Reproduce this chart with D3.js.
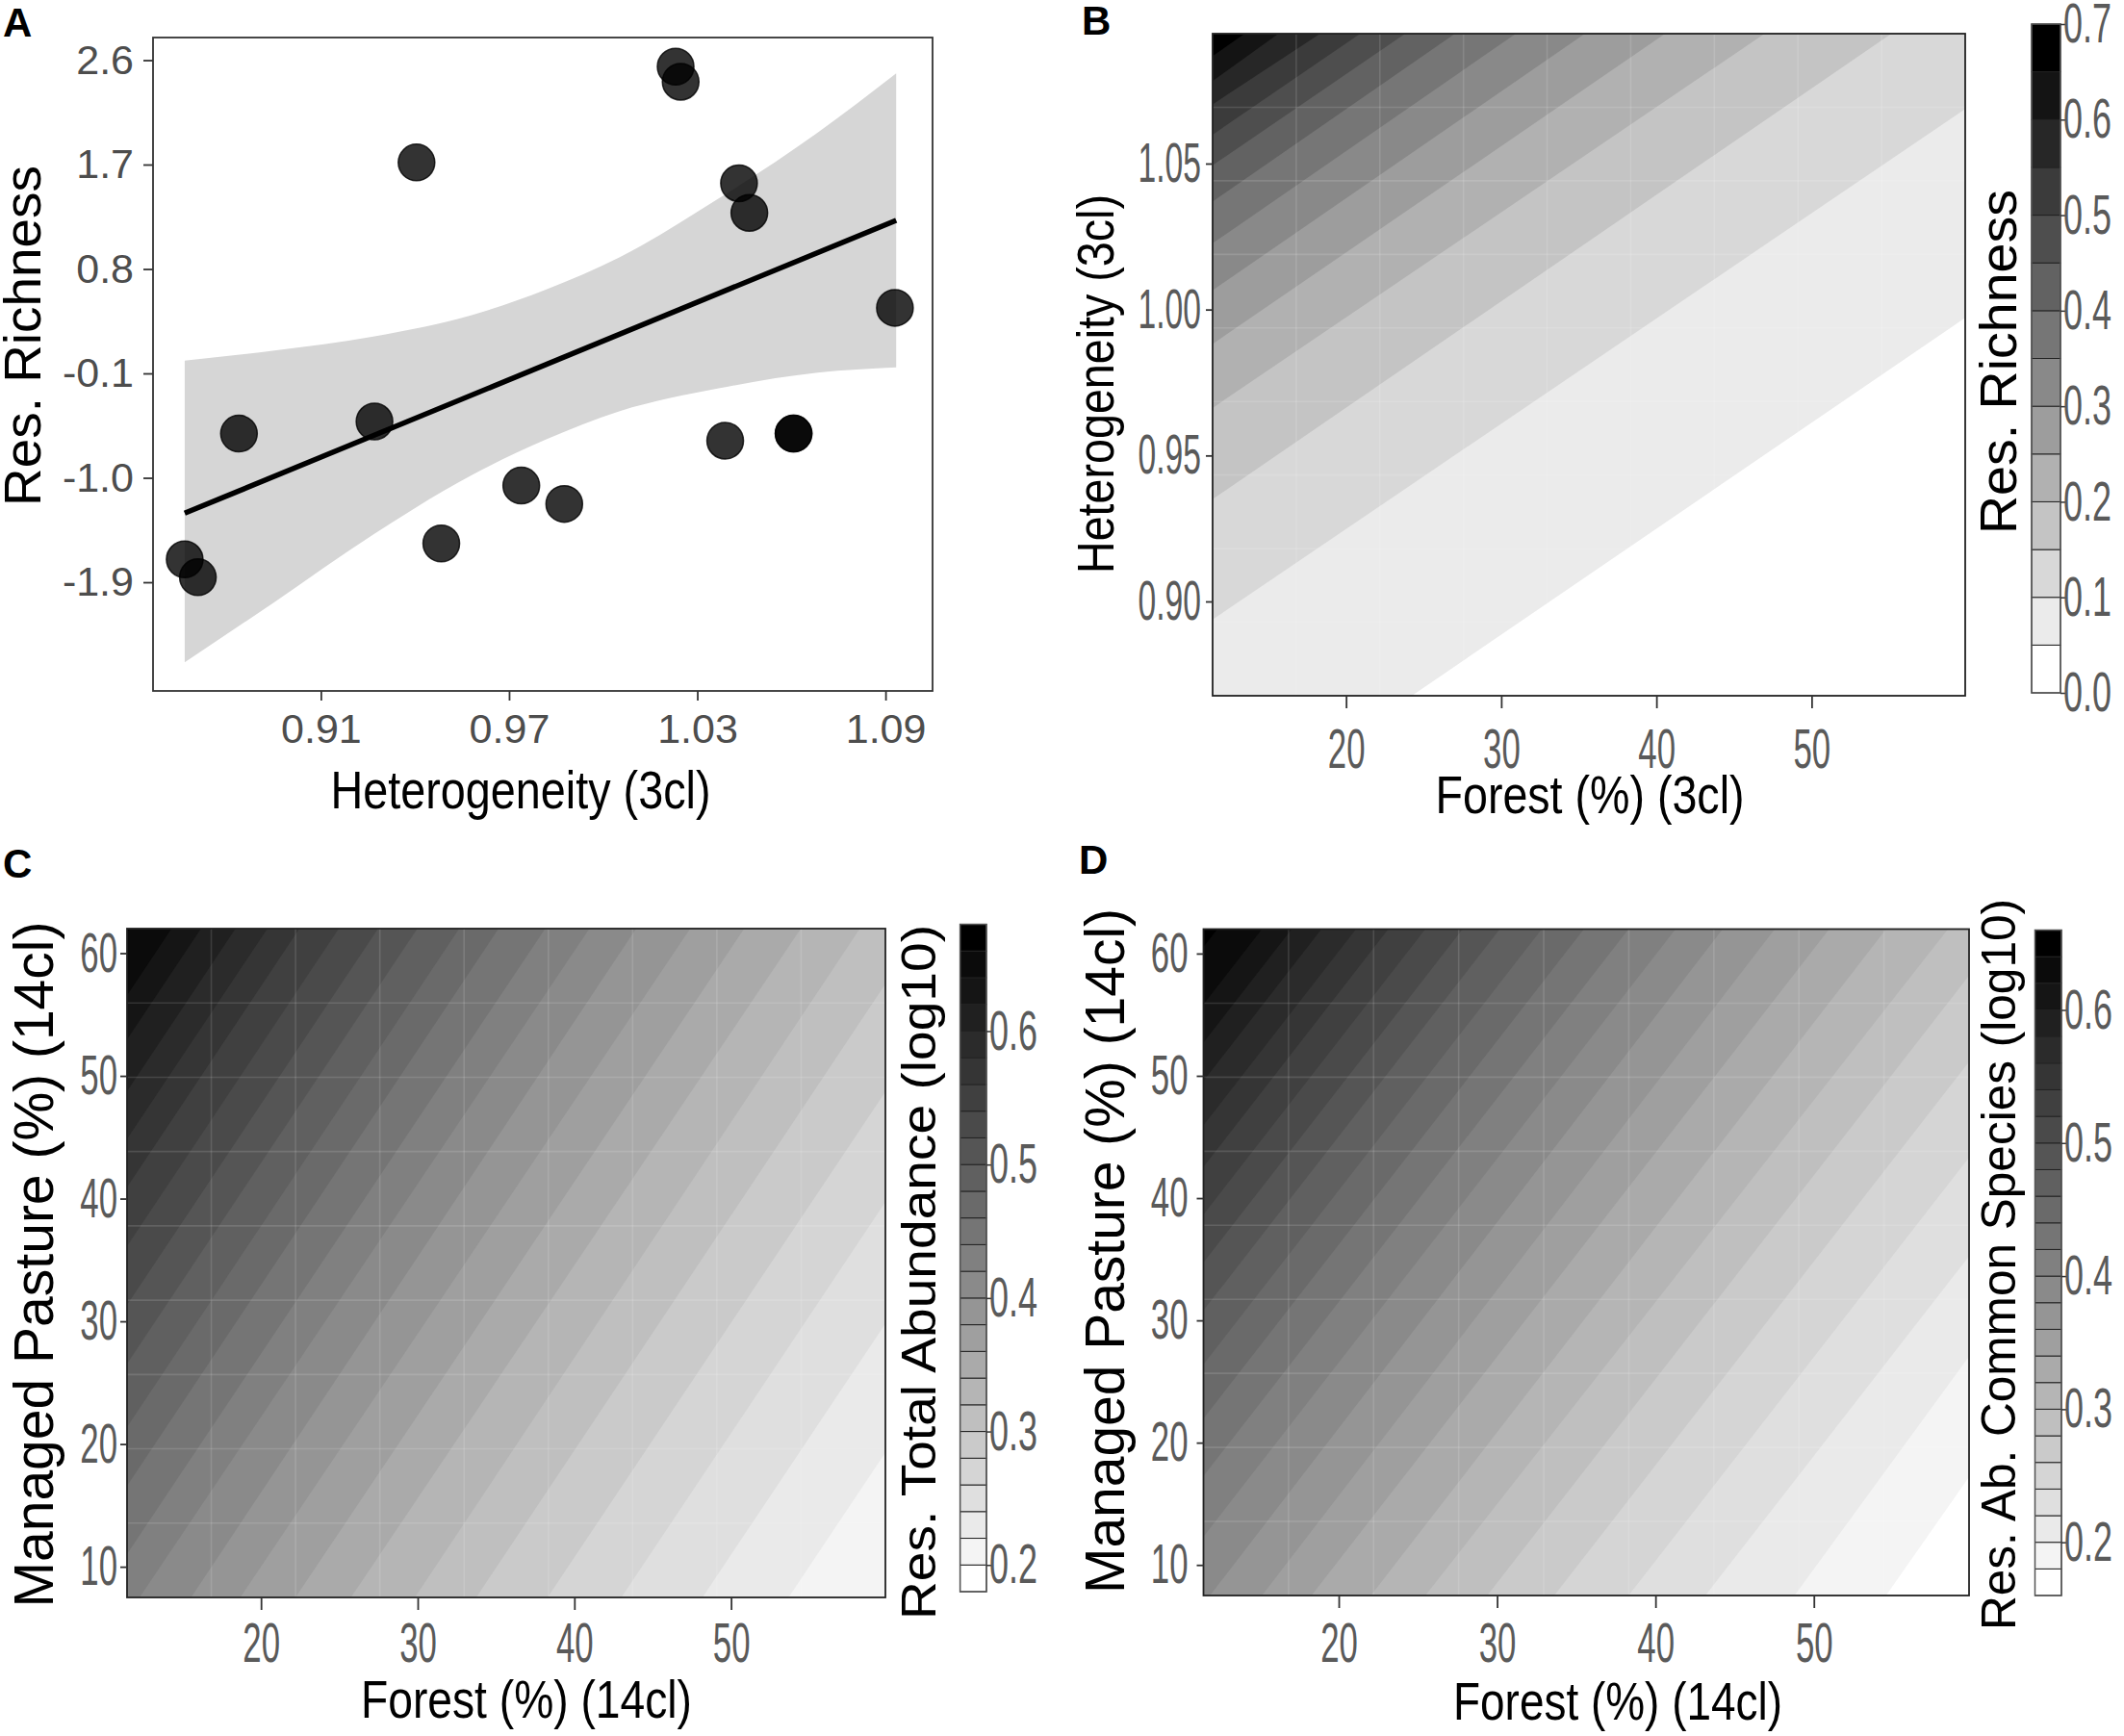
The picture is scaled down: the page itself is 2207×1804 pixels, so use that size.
<!DOCTYPE html>
<html>
<head>
<meta charset="utf-8">
<script src="https://cdn.jsdelivr.net/npm/d3@7"></script>
<style>
  body { margin: 0; background: #fff; }
  text { font-family: "Liberation Sans", Arial, sans-serif; }
</style>
</head>
<body>
<script>
// ---------- values ----------

// A: residual richness against heterogeneity (3cl)
const ptX = [1.0231, 1.0247, 0.9405, 1.0433, 1.0466, 1.0930, 0.8839, 0.9271, 1.0389, 1.0607, 1.0607, 0.9739, 0.9876, 0.9484, 0.8666, 0.8708];
const ptY = [2.544, 2.414, 1.718, 1.539, 1.284, 0.465, -0.619, -0.515, -0.680, -0.619, -0.619, -1.067, -1.225, -1.566, -1.703, -1.857];
const fitX = [0.8666, 1.0934];
const fitY = [-1.305, 1.219];
const bandX  = [0.8666, 0.8952, 0.9267, 0.9581, 0.9817, 1.0053, 1.0368, 1.0683, 1.0934];
const bandLo = [-2.59, -2.071, -1.490, -0.976, -0.671, -0.426, -0.229, -0.094, -0.048];
const bandHi = [0.010, 0.097, 0.218, 0.402, 0.622, 0.902, 1.407, 1.974, 2.486];
const aXTicks = [0.91, 0.97, 1.03, 1.09];
const aYTicks = [2.6, 1.7, 0.8, -0.1, -1.0, -1.9];

// B: Res. Richness over Forest (%) x Heterogeneity, band edges and where each edge line meets the panel
const bEdges = [0, 0.05, 0.10, 0.15, 0.20, 0.25, 0.30, 0.35, 0.40, 0.45, 0.50, 0.55, 0.60, 0.65, 0.70];
const bLineFrom = [[24.24, 0.8677], [11.4, 0.8938], [11.4, 0.9350], [11.4, 0.9663], [11.4, 0.9882], [11.4, 1.0066], [11.4, 1.0227],
                   [11.4, 1.0370], [11.4, 1.0494], [11.4, 1.0599], [11.4, 1.0703], [11.4, 1.0783], [11.4, 1.0868]];
const bLineTo   = [[59.9, 0.9972], [59.9, 1.0687], [55.14, 1.0945], [46.97, 1.0945], [40.56, 1.0945], [35.39, 1.0945], [30.94, 1.0945],
                   [27.02, 1.0945], [23.81, 1.0945], [20.91, 1.0945], [18.33, 1.0945], [15.64, 1.0945], [13.47, 1.0945]];

// C: Res. Total Abundance (log10); forest % where each edge crosses the bottom (7.5) and top (62) of the panel
const cEdges = [0.18, 0.20, 0.22, 0.24, 0.26, 0.28, 0.30, 0.32, 0.34, 0.36, 0.38, 0.40, 0.42,
                0.44, 0.46, 0.48, 0.50, 0.52, 0.54, 0.56, 0.58, 0.60, 0.62, 0.64, 0.66, 0.68];
const cBottomF = [61.0, 53.67, 48.18, 43.00, 38.29, 33.74, 29.82, 25.74, 22.20, 18.68, 15.54, 12.25,
                  9.6, 6.7, 4.2, 1.5, -1.0, -3.5, -6.0, -8.1, -10.1, -12.3, -14.2, -16.9];
const cTopF    = [89.5, 82.2, 76.7, 71.5, 66.8, 62.2, 58.22, 54.45, 50.84, 47.39, 43.94, 40.96,
                  38.14, 35.16, 32.65, 29.98, 27.47, 24.96, 22.45, 20.41, 18.37, 16.17, 14.29, 11.62];

// D: Res. Ab. Common Species (log10)
const dEdges = [0.16, 0.18, 0.20, 0.22, 0.24, 0.26, 0.28, 0.30, 0.32, 0.34, 0.36, 0.38, 0.40,
                0.42, 0.44, 0.46, 0.48, 0.50, 0.52, 0.54, 0.56, 0.58, 0.60, 0.62, 0.64, 0.66];
const dBottomF = [54.56, 48.78, 43.15, 38.30, 33.61, 29.38, 25.47, 22.03, 18.28, 15.15, 11.87, 8.57,
                  5.6, 2.78, 0.12, -2.53, -4.88, -7.23, -9.57, -11.61, -13.79, -15.67, -17.55, -20.36];
const dTopF    = [84.0, 79.5, 75.85, 71.0, 66.31, 62.08, 58.47, 54.56, 50.97, 47.53, 44.24, 41.27,
                  38.30, 35.48, 32.82, 30.17, 27.82, 25.47, 23.13, 21.09, 18.91, 17.03, 15.15, 12.34];

const forestTicks = [20, 30, 40, 50];
const hetTicks = [0.90, 0.95, 1.00, 1.05];
const pastureTicks = [10, 20, 30, 40, 50, 60];
const bBarTicks = [0, 0.1, 0.2, 0.3, 0.4, 0.5, 0.6, 0.7];
const cdBarTicks = [0.2, 0.3, 0.4, 0.5, 0.6];

// ---------- layout ----------
const W = 2207, H = 1804;
const svg = d3.create("svg").attr("width", W).attr("height", H);
svg.append("rect").attr("width", W).attr("height", H).attr("fill", "#fff");

const tickGrey = "#5a5a5a";

// scales
const xA = d3.scaleLinear().domain([0.8565, 1.105]).range([159, 969]);
const yA = d3.scaleLinear().domain([-2.837, 2.795]).range([718, 39]);
const xB = d3.scaleLinear().domain([11.4, 59.9]).range([1260, 2042]);
const yB = d3.scaleLinear().domain([0.8677, 1.0945]).range([723, 35]);
const xC = d3.scaleLinear().domain([11.45, 59.85]).range([132, 920]);
const yC = d3.scaleLinear().domain([7.5, 62.0]).range([1660, 965]);
const xD = d3.scaleLinear().domain([11.46, 59.8]).range([1250.5, 2046]);
const yD = d3.scaleLinear().domain([7.5, 62.0]).range([1658, 965.5]);

// helper: a text label, optionally rotated, squeezed to a measured length
function label(x, y, txt, opt) {
  const t = svg.append("text")
    .attr("x", x).attr("y", y)
    .attr("font-size", opt.size)
    .attr("fill", opt.color || "#000")
    .attr("text-anchor", opt.anchor || "middle")
    .attr("font-weight", opt.bold ? "bold" : null)
    .text(txt);
  if (opt.len) t.attr("textLength", opt.len).attr("lengthAdjust", "spacingAndGlyphs");
  if (opt.rotate) t.attr("transform", `rotate(-90, ${x}, ${y})`);
  return t;
}

// helper: style axis ticks; sx < 1 gives the narrow digits of panels B-D
function styleAxis(g, size, color, sx, left, pad) {
  g.select(".domain").remove();
  g.selectAll(".tick line").attr("stroke", "#333").attr("stroke-width", 1.8);
  const t = g.selectAll(".tick text").attr("font-size", size).attr("fill", color);
  if (sx !== 1) {
    t.attr("transform", `scale(${sx},1)`);
    if (left) t.attr("x", -pad / sx);
  }
}

// ---------- panel A ----------
const gA = svg.append("g");

gA.append("path")
  .datum(d3.range(bandX.length))
  .attr("fill", "#d6d6d6")
  .attr("d", d3.area()
    .x(i => xA(bandX[i]))
    .y0(i => yA(bandLo[i]))
    .y1(i => yA(bandHi[i]))
    .curve(d3.curveMonotoneX));

gA.append("path")
  .datum(d3.zip(fitX, fitY))
  .attr("fill", "none")
  .attr("stroke", "#000")
  .attr("stroke-width", 5.5)
  .attr("d", d3.line().x(d => xA(d[0])).y(d => yA(d[1])));

gA.selectAll("circle")
  .data(d3.zip(ptX, ptY))
  .join("circle")
  .attr("cx", d => xA(d[0]))
  .attr("cy", d => yA(d[1]))
  .attr("r", 19)
  .attr("fill", "#000")
  .attr("fill-opacity", 0.8)
  .attr("stroke", "#000")
  .attr("stroke-opacity", 0.8)
  .attr("stroke-width", 1.5);

gA.append("rect")
  .attr("x", 159).attr("y", 39).attr("width", 810).attr("height", 679)
  .attr("fill", "none").attr("stroke", "#333").attr("stroke-width", 1.8);

gA.append("g")
  .attr("transform", "translate(159,0)")
  .call(d3.axisLeft(yA).tickValues(aYTicks).tickFormat(d => d.toFixed(1)).tickSize(10).tickPadding(10))
  .call(g => styleAxis(g, 43, "#4d4d4d", 1));

gA.append("g")
  .attr("transform", "translate(0,718)")
  .call(d3.axisBottom(xA).tickValues(aXTicks).tickFormat(d => d.toFixed(2)).tickSize(10).tickPadding(13))
  .call(g => styleAxis(g, 43, "#4d4d4d", 1));

// ---------- contour panels ----------
const shadeRamp = d3.interpolateRgb("#ffffff", "#000000");

function contourPanel(id, x, y, edges, from, to) {
  const n = edges.length - 1;
  const shade = i => shadeRamp(i / (n - 1));
  const [x0, x1] = x.range();
  const [y0, y1] = y.range();
  const g = svg.append("g");
  g.append("clipPath").attr("id", id).append("rect")
    .attr("x", x0).attr("y", y1).attr("width", x1 - x0).attr("height", y0 - y1);
  const layer = g.append("g").attr("clip-path", `url(#${id})`);
  layer.append("rect")
    .attr("x", x0).attr("y", y1).attr("width", x1 - x0).attr("height", y0 - y1)
    .attr("fill", shade(0));

  // each edge line: paint everything on its high (upper-left) side with the next shade up
  const big = 4000;
  layer.selectAll("path.band")
    .data(d3.zip(from, to))
    .join("path")
    .attr("class", "band")
    .attr("fill", (d, k) => shade(k + 1))
    .attr("d", d => {
      const p = [x(d[0][0]), y(d[0][1])];
      const q = [x(d[1][0]), y(d[1][1])];
      const len = Math.hypot(q[0] - p[0], q[1] - p[1]);
      const ux = (q[0] - p[0]) / len, uy = (q[1] - p[1]) / len;
      const a = [p[0] - ux * big, p[1] - uy * big];
      const b = [q[0] + ux * big, q[1] + uy * big];
      const nx = uy, ny = -ux;
      return d3.line()([a, b, [b[0] + nx * big, b[1] + ny * big], [a[0] + nx * big, a[1] + ny * big]]) + "Z";
    });

  // faint tile seams of the rendered raster (9 x 9 tiles)
  const seams = d3.range(1, 9);
  layer.selectAll("line.vs").data(seams).join("line")
    .attr("x1", k => x0 + k * (x1 - x0) / 9).attr("x2", k => x0 + k * (x1 - x0) / 9)
    .attr("y1", y1).attr("y2", y0)
    .attr("stroke", "#fff").attr("stroke-opacity", 0.13).attr("stroke-width", 1.6);
  layer.selectAll("line.hs").data(seams).join("line")
    .attr("y1", k => y1 + k * (y0 - y1) / 9).attr("y2", k => y1 + k * (y0 - y1) / 9)
    .attr("x1", x0).attr("x2", x1)
    .attr("stroke", "#fff").attr("stroke-opacity", 0.13).attr("stroke-width", 1.6);

  g.append("rect")
    .attr("x", x0).attr("y", y1).attr("width", x1 - x0).attr("height", y0 - y1)
    .attr("fill", "none").attr("stroke", "#222").attr("stroke-width", 1.8);
  return shade;
}

function colorBar(left, right, scale, edges, ticks, shade) {
  const g = svg.append("g");
  const bands = d3.range(edges.length - 1);
  g.selectAll("rect")
    .data(bands)
    .join("rect")
    .attr("x", left)
    .attr("width", right - left)
    .attr("y", i => scale(edges[i + 1]))
    .attr("height", i => scale(edges[i]) - scale(edges[i + 1]))
    .attr("fill", i => shade(i))
    .attr("stroke", "#222")
    .attr("stroke-width", 1);
  g.append("rect")
    .attr("x", left).attr("width", right - left)
    .attr("y", scale.range()[1]).attr("height", scale.range()[0] - scale.range()[1])
    .attr("fill", "none").attr("stroke", "#555").attr("stroke-width", 1.5);
  g.append("g")
    .attr("transform", `translate(${right},0)`)
    .call(d3.axisRight(scale).tickValues(ticks).tickFormat(d => d.toFixed(1)).tickSize(7).tickPadding(2))
    .call(a => {
      a.select(".domain").remove();
      a.selectAll(".tick line").attr("stroke", "#333").attr("stroke-width", 1.5);
      a.selectAll(".tick text").attr("font-size", 58).attr("fill", tickGrey)
        .attr("transform", "scale(0.62,1)").attr("x", 3 / 0.62);
    });
}

// panel B
const shadeB = contourPanel("clipB", xB, yB, bEdges, bLineFrom, bLineTo);
svg.append("g").attr("transform", "translate(1260,0)")
  .call(d3.axisLeft(yB).tickValues(hetTicks).tickFormat(d => d.toFixed(2)).tickSize(7).tickPadding(5))
  .call(g => styleAxis(g, 58, tickGrey, 0.58, true, 12));
svg.append("g").attr("transform", "translate(0,723)")
  .call(d3.axisBottom(xB).tickValues(forestTicks).tickSize(13).tickPadding(21))
  .call(g => styleAxis(g, 58, tickGrey, 0.6));
colorBar(2111, 2141, d3.scaleLinear().domain([0, 0.7]).range([720, 25]), bEdges, bBarTicks, shadeB);

// panel C
const shadeC = contourPanel("clipC", xC, yC, cEdges,
  cBottomF.map(f => [f, 7.5]), cTopF.map(f => [f, 62.0]));
svg.append("g").attr("transform", "translate(132,0)")
  .call(d3.axisLeft(yC).tickValues(pastureTicks).tickSize(7).tickPadding(3))
  .call(g => styleAxis(g, 58, tickGrey, 0.6, true, 10));
svg.append("g").attr("transform", "translate(0,1660)")
  .call(d3.axisBottom(xC).tickValues(forestTicks).tickSize(13).tickPadding(13))
  .call(g => styleAxis(g, 58, tickGrey, 0.6));
colorBar(997.6, 1025, d3.scaleLinear().domain([0.18, 0.68]).range([1654, 960.5]), cEdges, cdBarTicks, shadeC);

// panel D
const shadeD = contourPanel("clipD", xD, yD, dEdges,
  dBottomF.map(f => [f, 7.5]), dTopF.map(f => [f, 62.0]));
svg.append("g").attr("transform", "translate(1250.5,0)")
  .call(d3.axisLeft(yD).tickValues(pastureTicks).tickSize(7).tickPadding(3))
  .call(g => styleAxis(g, 58, tickGrey, 0.6, true, 16));
svg.append("g").attr("transform", "translate(0,1658)")
  .call(d3.axisBottom(xD).tickValues(forestTicks).tickSize(13).tickPadding(15))
  .call(g => styleAxis(g, 58, tickGrey, 0.6));
colorBar(2114.5, 2142, d3.scaleLinear().domain([0.16, 0.66]).range([1658, 966.5]), dEdges, cdBarTicks, shadeD);

// ---------- titles ----------
label(3, 38, "A", { size: 42, bold: true, anchor: "start" });
label(1124, 36, "B", { size: 42, bold: true, anchor: "start" });
label(3, 912, "C", { size: 42, bold: true, anchor: "start" });
label(1121, 908, "D", { size: 42, bold: true, anchor: "start" });

label(42, 349, "Res. Richness", { size: 54, rotate: true, len: 354 });
label(541, 840, "Heterogeneity (3cl)", { size: 56, len: 395 });

label(1157, 399, "Heterogeneity (3cl)", { size: 54, rotate: true, len: 394 });
label(1652, 845, "Forest (%) (3cl)", { size: 56, len: 321 });
label(2095, 376, "Res. Richness", { size: 54, rotate: true, len: 358 });

label(55, 1314, "Managed Pasture (%) (14cl)", { size: 57, rotate: true, len: 713 });
label(547, 1785, "Forest (%) (14cl)", { size: 56, len: 344 });
label(972, 1322, "Res. Total Abundance (log10)", { size: 50, rotate: true, len: 722 });

label(1168, 1300, "Managed Pasture (%) (14cl)", { size: 57, rotate: true, len: 712 });
label(1681, 1787, "Forest (%) (14cl)", { size: 56, len: 342 });
label(2094, 1314, "Res. Ab. Common Species (log10)", { size: 50, rotate: true, len: 760 });

document.body.appendChild(svg.node());
</script>
</body>
</html>
